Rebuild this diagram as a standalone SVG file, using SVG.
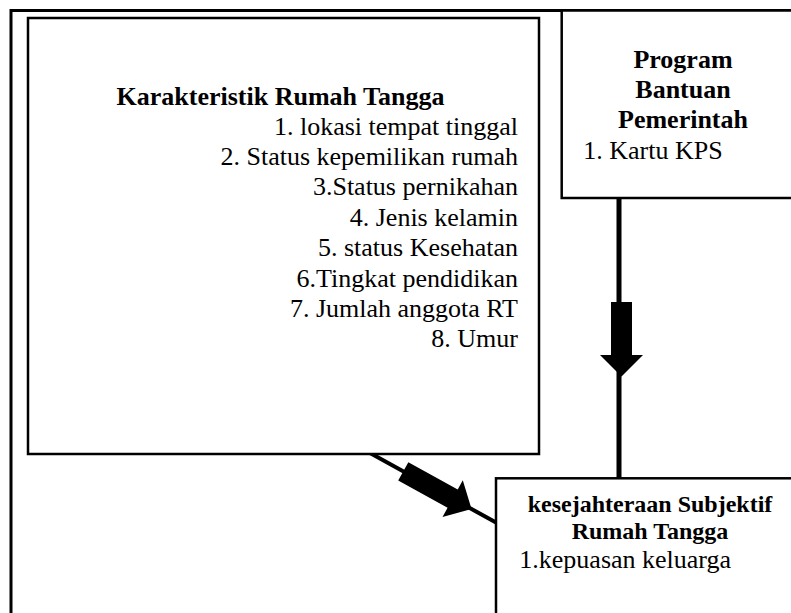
<svg xmlns="http://www.w3.org/2000/svg" width="791" height="613" viewBox="0 0 791 613">
<style>
.box{fill:#fff;stroke:#000;stroke-width:2.5}
.frame{fill:none;stroke:#000;stroke-width:3}
text{font-family:'Liberation Serif','Times New Roman',serif;font-size:26px;fill:#000}
.b{font-weight:bold}
.h24{font-size:24px}
.line{stroke:#000;stroke-width:5;fill:none}
.arrow{fill:#000;stroke:none}
</style>
<rect width="791" height="613" fill="#fff"/>
<rect class="frame" x="11" y="10.5" width="820" height="700"/>

<g id="connectors">
  <line class="line" x1="619" y1="198" x2="619" y2="479"/>
  <polygon class="arrow" points="611,302 632,302 632,355 643,355 621.5,376.5 600,355 611,355"/>
  <line class="line" x1="370" y1="453" x2="496" y2="522.5" style="stroke-width:4"/>
  <g transform="translate(370,453) rotate(28.9)">
    <polygon class="arrow" points="38,-10.5 94.4,-10.5 94.4,-21 116,0 94.4,21 94.4,10.5 38,10.5"/>
  </g>
</g>

<g id="karakteristik">
  <rect class="box" x="28" y="18" width="511" height="436"/>
  <text class="b" x="280.5" y="104.5" text-anchor="middle">Karakteristik Rumah Tangga</text>
  <g text-anchor="end">
    <text x="518" y="134.5">1. lokasi tempat tinggal</text>
    <text x="518" y="164.9">2. Status kepemilikan rumah</text>
    <text x="518" y="195.3">3.Status pernikahan</text>
    <text x="518" y="225.7">4. Jenis kelamin</text>
    <text x="518" y="256.1">5. status Kesehatan</text>
    <text x="518" y="286.5">6.Tingkat pendidikan</text>
    <text x="518" y="316.9">7. Jumlah anggota RT</text>
    <text x="518" y="347.3">8. Umur</text>
  </g>
</g>

<g id="program">
  <rect class="box" x="561.7" y="10.5" width="245" height="187.5"/>
  <text class="b" x="683" y="68.3" text-anchor="middle">Program</text>
  <text class="b" x="683" y="98" text-anchor="middle">Bantuan</text>
  <text class="b" x="683" y="128.4" text-anchor="middle">Pemerintah</text>
  <text x="583.3" y="159.2">1. Kartu KPS</text>
</g>

<g id="kesejahteraan">
  <rect class="box" x="496" y="478.3" width="310" height="200"/>
  <text class="b h24" x="650" y="511.5" text-anchor="middle">kesejahteraan Subjektif</text>
  <text class="b h24" x="650" y="538.8" text-anchor="middle">Rumah Tangga</text>
  <text x="519.3" y="568.3">1.kepuasan keluarga</text>
</g>
</svg>
